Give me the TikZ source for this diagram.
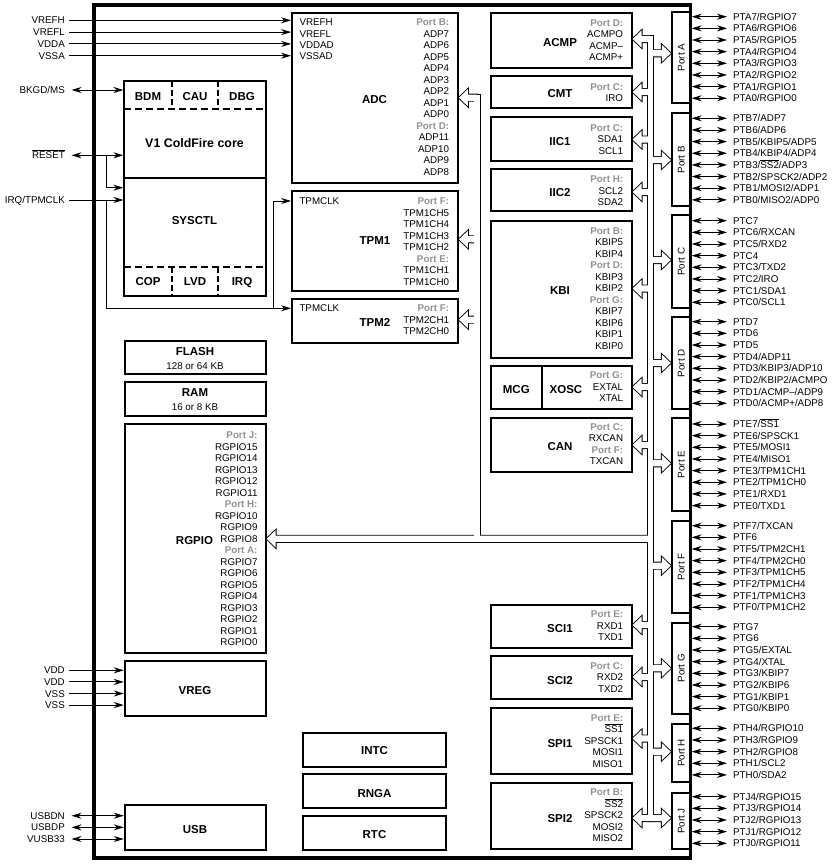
\documentclass[tikz,border=0pt]{standalone}
\usepackage{fontspec}
\setmainfont{Liberation Sans}
\usetikzlibrary{arrows.meta,fit}

\definecolor{portgray}{RGB}{145,145,145}

\newcommand\ovl[1]{\ensuremath{\overline{\mbox{#1}}}}
\newcommand\portlbl[1]{\textcolor{portgray}{\bfseries #1}}

% signal names listed inside a block, right aligned
\newcommand\siglist[4]{%
  \foreach \lab [count=\i from 0] in {#4}
    \node[sig, anchor=east] (#1\i) at (#2,{#3+\i*11.5}) {\lab};
}

% pins of one port, each with its arrow to the chip edge
\newcommand\pinrow[3]{%
  \foreach \lab [count=\i from 0] in {#3} {
    \node[sig, anchor=west, inner xsep=6pt] (#1\i) at (727,{#2+\i*11.65}) {\lab};
    \draw[biarr] (#1\i.west -| port#1.east) -- (#1\i.west);
  }
}

% the internal bus: every part once as outline, once as white fill
\newcommand\drawbus[1]{%
  \path[#1] (647.7,35.9) rectangle (652.9,821.1);
  \path[#1] (474.4,94.6) rectangle (479.6,538.8);
  \path[#1] (266.6,538.8) -- (275.6,530.2) -- (275.6,535.7) -- (650,535.7)
    -- (650,541.9) -- (275.6,541.9) -- (275.6,547.4) -- cycle;
  \foreach \y in {39,92,139.5,192,288.5,387,445,625,677,738.5,818}
    \path[#1] (632.6,\y) -- (641.6,\y-8.6) -- (641.6,\y-3.1) -- (650,\y-3.1)
      -- (650,\y+3.1) -- (641.6,\y+3.1) -- (641.6,\y+8.6) -- cycle;
  \foreach \y in {53.3,160,260,363,463.3,565.7,668.3,751.7,818}
    \path[#1] (670.8,\y) -- (661.8,\y-8.6) -- (661.8,\y-3.1) -- (650,\y-3.1)
      -- (650,\y+3.1) -- (661.8,\y+3.1) -- (661.8,\y+8.6) -- cycle;
  \foreach \y in {97.7,239.3,319.7}
    \path[#1] (458.9,\y) -- (467.9,\y-8.6) -- (467.9,\y-3.1) -- (477,\y-3.1)
      -- (477,\y+3.1) -- (467.9,\y+3.1) -- (467.9,\y+8.6) -- cycle;
}

\tikzset{
  blk/.style={draw, line width=1.8pt, inner sep=0pt},
  title/.style={font=\fontsize{11.5}{13}\selectfont\bfseries, text height=8.2pt, text depth=0pt, inner sep=0pt},
  sig/.style={font=\fontsize{9.8}{11}\selectfont, text height=7pt, text depth=0pt, inner sep=0pt},
  ext/.style={sig, anchor=east, inner xsep=4pt},
  arr/.style={line width=0.9pt, -{Stealth[length=10pt,width=6pt]}},
  biarr/.style={line width=0.9pt, {Stealth[length=10pt,width=6pt]}-{Stealth[length=10pt,width=6pt]}},
  blkdash/.style={line width=1.8pt, dash pattern=on 7pt off 4pt},
}

\begin{document}
\begin{tikzpicture}[x=1pt, y=-1pt]
\useasboundingbox (0,0) rectangle (835,865);

\drawbus{draw, line width=1.8pt}
\drawbus{fill=white}

% chip outline
\node[blk, line width=3.2pt, fit={(94,5) (690.7,858)}] (chip) {};

% left column
\node[blk, fit={(124.3,80.7) (265.7,295.7)}] (core) {};
\draw[line width=1.8pt] (124.3,177.7) -- (265.7,177.7);
\draw[blkdash] (124.3,109.3) -- (265.7,109.3);
\draw[blkdash] (124.3,266.7) -- (265.7,266.7);
\draw[blkdash, dash pattern=on 6pt off 3pt] (171.7,80.7) -- (171.7,109.3);
\draw[blkdash, dash pattern=on 6pt off 3pt] (218.3,80.7) -- (218.3,109.3);
\draw[blkdash, dash pattern=on 6pt off 3pt] (171.7,266.7) -- (171.7,295.7);
\draw[blkdash, dash pattern=on 6pt off 3pt] (218.3,266.7) -- (218.3,295.7);
\node[title] (bdm) at (148,96) {BDM};
\node[title] (cau) at (195,96) {CAU};
\node[title] (dbg) at (242,96) {DBG};
\node[title, font=\fontsize{12.4}{14}\selectfont\bfseries] (cf) at (194.5,143.3) {V1 ColdFire core};
\node[title] (sysctl) at (194.5,220) {SYSCTL};
\node[title] (cop) at (148,281.7) {COP};
\node[title] (lvd) at (195,281.7) {LVD};
\node[title] (irqm) at (242,281.7) {IRQ};

\node[blk, fit={(124.7,340.7) (265.7,374)}] (flash) {};
\node[title] (flasht) at (195,351) {FLASH};
\node[sig] (flashs) at (195,365.7) {128 or 64 KB};
\node[blk, fit={(124.7,382.3) (265.7,415.7)}] (ram) {};
\node[title] (ramt) at (195,392.7) {RAM};
\node[sig] (rams) at (195,406.7) {16 or 8 KB};

\node[blk, fit={(124.7,424) (265.7,653.3)}] (rgpio) {};
\node[title] (rgpiot) at (194.5,540) {RGPIO};
\siglist{rgl}{257.7}{435}{\portlbl{Port J:},RGPIO15,RGPIO14,RGPIO13,RGPIO12,RGPIO11,
  \portlbl{Port H:},RGPIO10,RGPIO9,RGPIO8,\portlbl{Port A:},RGPIO7,RGPIO6,RGPIO5,
  RGPIO4,RGPIO3,RGPIO2,RGPIO1,RGPIO0}

\node[blk, fit={(124.7,660.7) (265.7,716)}] (vreg) {};
\node[title] (vregt) at (195,690) {VREG};
\node[blk, fit={(124.7,804.7) (265.7,850)}] (usb) {};
\node[title] (usbt) at (195,829) {USB};

% middle column
\node[blk, fit={(292,13.3) (458,182.7)}] (adc) {};
\node[title] (adct) at (374.5,99.3) {ADC};
\foreach \lab [count=\i from 0] in {VREFH,VREFL,VDDAD,VSSAD}
  \node[sig, anchor=west] (adcr\i) at (299.3,{22.3+\i*11.3}) {\lab};
\siglist{adcl}{449.3}{22.3}{\portlbl{Port B:},ADP7,ADP6,ADP5,ADP4,ADP3,ADP2,ADP1,ADP0,
  \portlbl{Port D:},ADP11,ADP10,ADP9,ADP8}

\node[blk, fit={(292,191) (458,290.7)}] (tpm1) {};
\node[title] (tpm1t) at (375,240.7) {TPM1};
\node[sig, anchor=west] (tpm1c) at (299.3,201) {TPMCLK};
\siglist{tpm1l}{449.3}{201}{\portlbl{Port F:},TPM1CH5,TPM1CH4,TPM1CH3,TPM1CH2,
  \portlbl{Port E:},TPM1CH1,TPM1CH0}

\node[blk, fit={(292,299) (458,343.3)}] (tpm2) {};
\node[title] (tpm2t) at (375,322.3) {TPM2};
\node[sig, anchor=west] (tpm2c) at (299.3,308.3) {TPMCLK};
\siglist{tpm2l}{449.3}{308.3}{\portlbl{Port F:},TPM2CH1,TPM2CH0}

\node[blk, fit={(303.3,732.7) (445.7,766.7)}] (intc) {};
\node[title] (intct) at (374.5,750.7) {INTC};
\node[blk, fit={(303.3,774.3) (445.7,807.7)}] (rnga) {};
\node[title] (rngat) at (374.5,793.3) {RNGA};
\node[blk, fit={(303.3,816) (445.7,850)}] (rtc) {};
\node[title] (rtct) at (374.5,834.7) {RTC};

% peripheral column
\node[blk, fit={(491,12.7) (631.7,67.7)}] (acmp) {};
\node[title] (acmpt) at (560,42.7) {ACMP};
\siglist{acmpl}{623.3}{22.7}{\portlbl{Port D:},ACMPO,ACMP–,ACMP+}

\node[blk, fit={(491,76) (631.7,108.3)}] (cmt) {};
\node[title] (cmtt) at (560,93.3) {CMT};
\siglist{cmtl}{623.3}{86.7}{\portlbl{Port C:},IRO}

\node[blk, fit={(491,117.3) (631.7,160.7)}] (iica) {};
\node[title] (iicat) at (560,141.3) {IIC1};
\siglist{iical}{623.3}{127.7}{\portlbl{Port C:},SDA1,SCL1}

\node[blk, fit={(491,169) (631.7,211)}] (iicb) {};
\node[title] (iicbt) at (560,192) {IIC2};
\siglist{iicbl}{623.3}{179}{\portlbl{Port H:},SCL2,SDA2}

\node[blk, fit={(491,221) (631.7,357.7)}] (kbi) {};
\node[title] (kbit) at (560,290) {KBI};
\siglist{kbil}{623.3}{230.7}{\portlbl{Port B:},KBIP5,KBIP4,\portlbl{Port D:},KBIP3,KBIP2,
  \portlbl{Port G:},KBIP7,KBIP6,KBIP1,KBIP0}

\node[blk, fit={(491,365.7) (631.7,409)}] (mcg) {};
\draw[line width=1.8pt] (541.7,365.7) -- (541.7,409);
\node[title] (mcgt) at (516.3,389) {MCG};
\node[title] (xosct) at (566,389) {XOSC};
\siglist{xoscl}{623.3}{375}{\portlbl{Port G:},EXTAL,XTAL}

\node[blk, fit={(491,418.3) (631.7,472.3)}] (can) {};
\node[title] (cant) at (560,446.7) {CAN};
\siglist{canl}{623.3}{426.7}{\portlbl{Port C:},RXCAN,\portlbl{Port F:},TXCAN}

\node[blk, fit={(491,605) (631.7,647.7)}] (scia) {};
\node[title] (sciat) at (560,628) {SCI1};
\siglist{scial}{623.3}{614}{\portlbl{Port E:},RXD1,TXD1}

\node[blk, fit={(491,656) (631.7,699.3)}] (scib) {};
\node[title] (scibt) at (560,680) {SCI2};
\siglist{scibl}{623.3}{665.7}{\portlbl{Port C:},RXD2,TXD2}

\node[blk, fit={(491,707.7) (631.7,774.3)}] (spia) {};
\node[title] (spiat) at (560,743.3) {SPI1};
\siglist{spial}{623.3}{717.7}{\portlbl{Port E:},\ovl{SS1},SPSCK1,MOSI1,MISO1}

\node[blk, fit={(491,782.7) (631.7,849.3)}] (spib) {};
\node[title] (spibt) at (560,818) {SPI2};
\siglist{spibl}{623.3}{792.3}{\portlbl{Port B:},\ovl{SS2},SPSCK2,MOSI2,MISO2}

% ports
\foreach \p/\ya/\yb in {A/11.7/103.3, B/113.3/206, C/215/308.3, D/317.3/409.3,
    E/418.3/510.7, F/520.7/612.7, G/622.7/714, H/724/781.7, J/792.7/849.3} {
  \node[blk, fit={(671.7,\ya) (690.7,\yb)}] (port\p) {};
  \node[sig, rotate=90] (lbl\p) at (port\p) {Port \p};
}

\pinrow{A}{16.7}{PTA7/RGPIO7,PTA6/RGPIO6,PTA5/RGPIO5,PTA4/RGPIO4,PTA3/RGPIO3,PTA2/RGPIO2,PTA1/RGPIO1,PTA0/RGPIO0}
\pinrow{B}{118.3}{PTB7/ADP7,PTB6/ADP6,PTB5/KBIP5/ADP5,PTB4/KBIP4/ADP4,PTB3/\ovl{SS2}/ADP3,PTB2/SPSCK2/ADP2,PTB1/MOSI2/ADP1,PTB0/MISO2/ADP0}
\pinrow{C}{220.7}{PTC7,PTC6/RXCAN,PTC5/RXD2,PTC4,PTC3/TXD2,PTC2/IRO,PTC1/SDA1,PTC0/SCL1}
\pinrow{D}{321.7}{PTD7,PTD6,PTD5,PTD4/ADP11,PTD3/KBIP3/ADP10,PTD2/KBIP2/ACMPO,PTD1/ACMP–/ADP9,PTD0/ACMP+/ADP8}
\pinrow{E}{424}{PTE7/\ovl{SS1},PTE6/SPSCK1,PTE5/MOSI1,PTE4/MISO1,PTE3/TPM1CH1,PTE2/TPM1CH0,PTE1/RXD1,PTE0/TXD1}
\pinrow{F}{525.7}{PTF7/TXCAN,PTF6,PTF5/TPM2CH1,PTF4/TPM2CH0,PTF3/TPM1CH5,PTF2/TPM1CH4,PTF1/TPM1CH3,PTF0/TPM1CH2}
\pinrow{G}{626.7}{PTG7,PTG6,PTG5/EXTAL,PTG4/XTAL,PTG3/KBIP7,PTG2/KBIP6,PTG1/KBIP1,PTG0/KBIP0}
\pinrow{H}{728.3}{PTH4/RGPIO10,PTH3/RGPIO9,PTH2/RGPIO8,PTH1/SCL2,PTH0/SDA2}
\pinrow{J}{796.7}{PTJ4/RGPIO15,PTJ3/RGPIO14,PTJ2/RGPIO13,PTJ1/RGPIO12,PTJ0/RGPIO11}

% external pins on the left
\foreach \lab [count=\i from 0] in {VREFH,VREFL,VDDA,VSSA} {
  \node[ext] (ref\i) at (69,{20.3+\i*11.8}) {\lab};
  \draw[arr] (ref\i) -- (ref\i -| adc.west);
}

\node[ext] (bkgd) at (69,90) {BKGD/MS};
\draw[biarr, shorten <=2.5pt] (bkgd) -- (bkgd -| core.west);

\node[ext] (rst) at (69,155.3) {\ovl{RESET}};
\draw[biarr, shorten <=2.5pt] (rst) -- (rst -| core.west);
\coordinate (rstj) at (106.7,155.3);
\draw[arr] (rstj) |- (core.west |- 0,187.7);

\node[ext] (irq) at (69,200) {IRQ/TPMCLK};
\draw[arr] (irq) -- (irq -| core.west);
\coordinate (irqj) at (106.7,200);
\coordinate (tpmj) at (273.3,308.3);
\draw[arr] (irqj) |- (tpm2.west |- tpmj);
\draw[arr] (tpmj) |- (tpm1.west |- 0,201);

\foreach \lab [count=\i from 0] in {VDD,VDD,VSS,VSS} {
  \node[ext] (pwr\i) at (69,{670.3+\i*11.6}) {\lab};
  \draw[arr] (pwr\i) -- (pwr\i -| vreg.west);
}

\foreach \lab [count=\i from 0] in {USBDN,USBDP,VUSB33} {
  \node[ext] (usbp\i) at (69,{815.7+\i*11.65}) {\lab};
  \draw[biarr, shorten <=2.5pt] (usbp\i) -- (usbp\i -| usb.west);
}

\end{tikzpicture}
\end{document}
